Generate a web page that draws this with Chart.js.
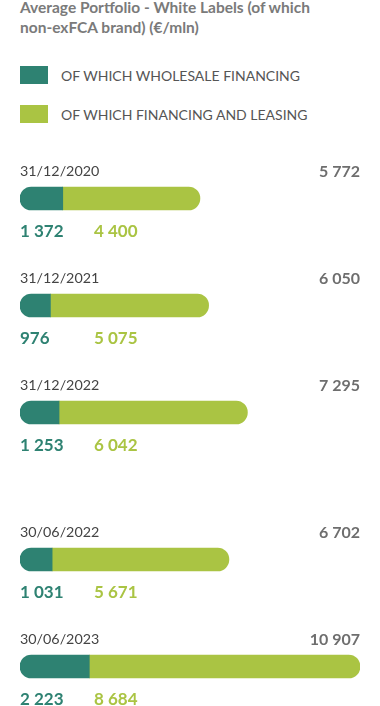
<!DOCTYPE html>
<html><head><meta charset="utf-8">
<script src="https://cdn.jsdelivr.net/npm/chart.js@4/dist/chart.umd.min.js"></script>
<style>
html,body{margin:0;padding:0;width:380px;height:706px;overflow:hidden;background:#fff;font-family:Lato,sans-serif}
#title{position:absolute;left:20px;top:-3px;width:360px;white-space:nowrap;font-weight:700;font-size:15.5px;line-height:20px;color:#7a7a7a}
.leg{position:absolute;left:20px;height:18px;display:flex;align-items:center;font-size:14px;color:#555}
.sw{width:28px;height:18px;margin-right:13px;flex:none}
.cw{position:absolute;left:0;width:380px}
</style></head><body>
<div id="title">Average Portfolio - White Labels (of which<br>non-exFCA brand) (€/mln)</div>
<div class="leg" style="top:66px"><div class="sw" id="sw0"></div><span id="lg0"></span></div>
<div class="leg" style="top:105px"><div class="sw" id="sw1"></div><span id="lg1"></span></div>
<div class="cw" style="top:145px;height:321px"><canvas id="c1"></canvas></div>
<div class="cw" style="top:506px;height:214px"><canvas id="c2"></canvas></div>
<script>
const dates = ['31/12/2020','31/12/2021','31/12/2022','30/06/2022','30/06/2023'];
const wholesale = [1372, 976, 1253, 1031, 2223];
const financing = [4400, 5075, 6042, 5671, 8684];
const totals = [5772, 6050, 7295, 6702, 10907];
const seriesNames = ['OF WHICH WHOLESALE FINANCING','OF WHICH FINANCING AND LEASING'];
const groups = [[0,3],[3,5]];

const colors = ['#2e8272','#aac443'];
document.getElementById('sw0').style.background = colors[0];
document.getElementById('sw1').style.background = colors[1];
document.getElementById('lg0').textContent = seriesNames[0];
document.getElementById('lg1').textContent = seriesNames[1];

const fmt = v => String(v).replace(/\B(?=(\d{3})+(?!\d))/g, ' ');
const xMax = Math.max(...totals);

function makeChart(id, from, to){
  const labels = dates.slice(from,to);
  const w = wholesale.slice(from,to), f = financing.slice(from,to), t = totals.slice(from,to);
  const plugin = {
    id:'rowLabels',
    afterDatasetsDraw(chart){
      const {ctx, chartArea, scales:{y}} = chart;
      ctx.save();
      ctx.textBaseline = 'middle';
      labels.forEach((lab,i)=>{
        const cy = y.getPixelForValue(i);
        ctx.font = '400 14.3px Lato';
        ctx.fillStyle = '#444';
        ctx.textAlign = 'left';
        ctx.fillText(lab, chartArea.left, cy - 27);
        ctx.font = '700 16px Lato';
        ctx.fillStyle = '#6e6e6e';
        ctx.textAlign = 'right';
        ctx.fillText(fmt(t[i]), chartArea.right, cy - 27);
        ctx.font = '700 17px Lato';
        ctx.textAlign = 'left';
        ctx.fillStyle = colors[0];
        ctx.fillText(fmt(w[i]), chartArea.left, cy + 33);
        ctx.fillStyle = colors[1];
        ctx.fillText(fmt(f[i]), chartArea.left + 74, cy + 33);
      });
      ctx.restore();
    }
  };
  return new Chart(document.getElementById(id), {
    type:'bar',
    data:{labels, datasets:[
      {label:seriesNames[0], data:w, backgroundColor:colors[0], borderSkipped:false,
       borderRadius:{topLeft:12,bottomLeft:12,topRight:0,bottomRight:0}},
      {label:seriesNames[1], data:f, backgroundColor:colors[1], borderSkipped:false,
       borderRadius:{topLeft:0,bottomLeft:0,topRight:12,bottomRight:12}}
    ]},
    options:{
      indexAxis:'y', responsive:true, maintainAspectRatio:false, animation:false,
      barThickness:23,
      layout:{padding:{left:20,right:20,top:0,bottom:0}},
      scales:{
        x:{stacked:true, display:false, min:0, max:xMax},
        y:{stacked:true, display:false}
      },
      plugins:{legend:{display:false}, tooltip:{enabled:false}}
    },
    plugins:[plugin]
  });
}
makeChart('c1', groups[0][0], groups[0][1]);
makeChart('c2', groups[1][0], groups[1][1]);
</script>
</body></html>
